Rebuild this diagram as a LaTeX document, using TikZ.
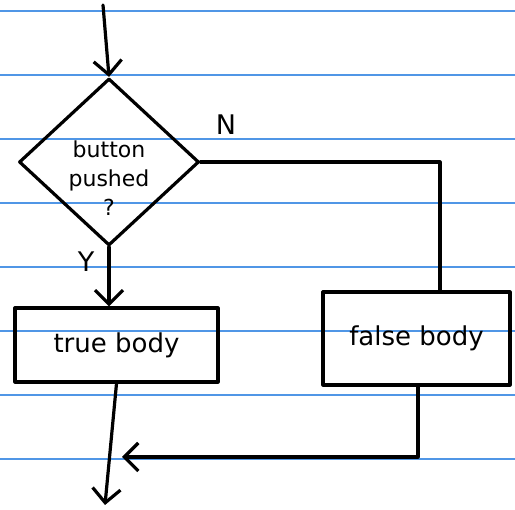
\documentclass[tikz,border=0pt]{standalone}
\usepackage{fontspec}
\setmainfont{DejaVu Sans}
\usetikzlibrary{shapes.geometric,arrows.meta}
\definecolor{ruleblue}{RGB}{80,150,230}
\begin{document}
\begin{tikzpicture}[x=1pt,y=-1pt,
  ink/.style={line width=3.2pt,line cap=round,line join=round},
  conn/.style={ink,-{Straight Barb[length=14pt,width=28pt,line width=3.2pt]}},
  plain/.style={ink},
  boxstyle/.style={draw,ink,rectangle,inner sep=0pt,font=\fontsize{26}{28}\selectfont},
  decstyle/.style={draw,ink,diamond,inner sep=0pt,minimum width=180pt,minimum height=167pt},
  dectext/.style={align=center,font=\fontsize{22}{29}\selectfont,yshift=-16pt},
  lbl/.style={font=\fontsize{27}{29}\selectfont}]
\useasboundingbox (0,0) rectangle (515,510);
\fill[white] (0,0) rectangle (515,510);
\foreach \y in {11,75,139,203,267,331,395,459}
  \draw[ruleblue,line width=1.2pt] (0,\y) -- (515,\y);
\coordinate (start) at (103,5);
\node[decstyle,label={[dectext]center:button\\pushed\\?}] (dec) at (109,162) {};
\node[boxstyle,minimum width=203pt,minimum height=74pt] (tb) at (116.5,345) {true body};
\node[boxstyle,minimum width=187pt,minimum height=93pt] (fb) at (416.5,338.5) {false body};
\coordinate (endpt) at (105,505);
\coordinate (merge) at (122,457);
\node[lbl] (nlab) at (226,125) {N};
\node[lbl] (ylab) at (86,262) {Y};
\draw[conn] (start) -- (dec.north);
\draw[conn] (dec.south) -- (dec.south |- tb.north);
\draw[plain] (dec.east) -| ([xshift=23.5pt]fb.north);
\draw[conn] (tb.south) -- (endpt);
\draw[conn] ([xshift=1.5pt]fb.south) |- (merge);
\end{tikzpicture}
\end{document}
